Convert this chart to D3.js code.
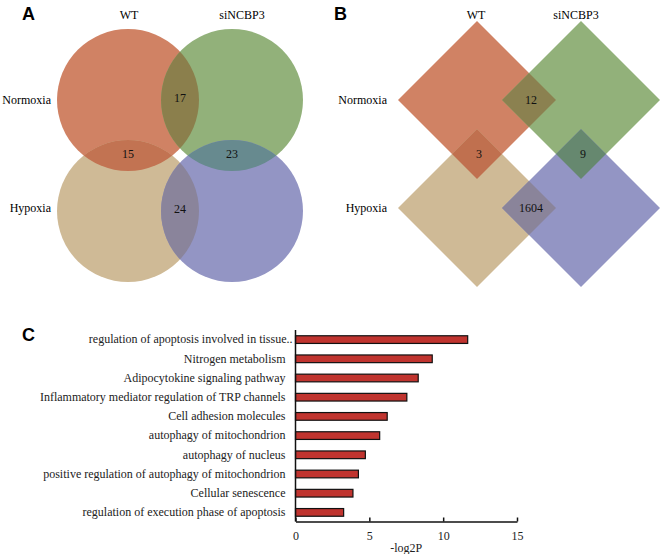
<!DOCTYPE html>
<html><head><meta charset="utf-8">
<script src="https://cdn.jsdelivr.net/npm/d3@7"></script>
<style>
html,body{margin:0;padding:0;background:#fff;}
svg{display:block;}
</style></head>
<body>
<svg id="chart" width="663" height="554"></svg>
<script>
// ---------- data ----------
const genotypes = ["WT", "siNCBP3"];
const conditions = ["Normoxia", "Hypoxia"];
// sets in order: WT-Normoxia, siNCBP3-Normoxia, WT-Hypoxia, siNCBP3-Hypoxia
const setKeys = [["WT","Normoxia"],["siNCBP3","Normoxia"],["WT","Hypoxia"],["siNCBP3","Hypoxia"]];
// overlapping pairs (indices into setKeys)
const overlapPairs = [[0,1],[0,2],[1,3],[2,3]];
const overlapsA = [17, 15, 23, 24];
const overlapsB = [12, 3, 9, 1604];

const terms = [
  "regulation of apoptosis involved in tissue..",
  "Nitrogen metabolism",
  "Adipocytokine signaling pathway",
  "Inflammatory mediator regulation of TRP channels",
  "Cell adhesion molecules",
  "autophagy of mitochondrion",
  "autophagy of nucleus",
  "positive regulation of autophagy of mitochondrion",
  "Cellular senescence",
  "regulation of execution phase of apoptosis"
];
const log2P = [11.66, 9.26, 8.31, 7.54, 6.21, 5.70, 4.73, 4.26, 3.89, 3.26];
const xTicks = [0, 5, 10, 15];

// ---------- styles ----------
const setColors = ["#d08264", "#92b17a", "#cfba96", "#9395c4"];
const overlapColorsA = ["#8b7f4c", "#c27352", "#678a8f", "#8a849b"];
const overlapColorsB = ["#8b8150", "#c0704f", "#66886f", "#8a849a"];
const serif = "'Liberation Serif','Times New Roman',serif";
const sans = "'Liberation Sans',Arial,sans-serif";

const svg = d3.select("#chart");

function panelLabel(t, x, y) {
  svg.append("text").attr("x", x).attr("y", y).text(t)
    .attr("font-family", sans).attr("font-weight", "bold").attr("font-size", 18).attr("fill", "#000");
}

// ---------- Panel A: circles ----------
(function(){
  const g = svg.append("g");
  const x = d3.scalePoint().domain(genotypes).range([128, 232]);
  const y = d3.scalePoint().domain(conditions).range([100, 211]);
  const r = 71;
  const defs = svg.append("defs");
  setKeys.forEach((k, i) => {
    defs.append("clipPath").attr("id", "cA" + i)
      .append("circle").attr("cx", x(k[0])).attr("cy", y(k[1])).attr("r", r);
  });
  g.selectAll("circle.set").data(setKeys).join("circle").attr("class","set")
    .attr("cx", d => x(d[0])).attr("cy", d => y(d[1])).attr("r", r)
    .attr("fill", (d, i) => setColors[i]);
  g.selectAll("circle.ov").data(overlapPairs).join("circle").attr("class","ov")
    .attr("cx", d => x(setKeys[d[1]][0])).attr("cy", d => y(setKeys[d[1]][1])).attr("r", r)
    .attr("clip-path", d => `url(#cA${d[0]})`)
    .attr("fill", (d, i) => overlapColorsA[i]);
  g.selectAll("text.num").data(overlapPairs).join("text").attr("class","num")
    .attr("x", d => (x(setKeys[d[0]][0]) + x(setKeys[d[1]][0])) / 2)
    .attr("y", d => (y(setKeys[d[0]][1]) + y(setKeys[d[1]][1])) / 2 - 2)
    .attr("text-anchor", "middle").attr("dominant-baseline", "central")
    .attr("font-family", serif).attr("font-size", 12).attr("fill", "#111")
    .text((d, i) => overlapsA[i]);
  g.selectAll("text.col").data(genotypes).join("text").attr("class","col")
    .attr("x", (d, i) => x(d) + (i ? 10 : 1)).attr("y", 15)
    .attr("text-anchor", "middle").attr("dominant-baseline", "central")
    .attr("font-family", serif).attr("font-size", 12).text(d => d);
  g.selectAll("text.row").data(conditions).join("text").attr("class","row")
    .attr("x", 51).attr("y", (d, i) => y(d) - (i ? 3 : 0))
    .attr("text-anchor", "end").attr("dominant-baseline", "central")
    .attr("font-family", serif).attr("font-size", 12).text(d => d);
  panelLabel("A", 22, 20);
})();

// ---------- Panel B: diamonds ----------
(function(){
  const g = svg.append("g");
  const x = d3.scalePoint().domain(genotypes).range([477, 581]);
  const y = d3.scalePoint().domain(conditions).range([100, 208]);
  const h = 79;
  const dpath = (cx, cy) => `M${cx - h},${cy}L${cx},${cy - h}L${cx + h},${cy}L${cx},${cy + h}Z`;
  const defs = svg.append("defs");
  setKeys.forEach((k, i) => {
    defs.append("clipPath").attr("id", "cB" + i)
      .append("path").attr("d", dpath(x(k[0]), y(k[1])));
  });
  g.selectAll("path.set").data(setKeys).join("path").attr("class","set")
    .attr("d", d => dpath(x(d[0]), y(d[1])))
    .attr("fill", (d, i) => setColors[i]);
  g.selectAll("path.ov").data(overlapPairs).join("path").attr("class","ov")
    .attr("d", d => dpath(x(setKeys[d[1]][0]), y(setKeys[d[1]][1])))
    .attr("clip-path", d => `url(#cB${d[0]})`)
    .attr("fill", (d, i) => overlapColorsB[i]);
  g.selectAll("text.num").data(overlapPairs).join("text").attr("class","num")
    .attr("x", d => (x(setKeys[d[0]][0]) + x(setKeys[d[1]][0])) / 2 + 2)
    .attr("y", d => (y(setKeys[d[0]][1]) + y(setKeys[d[1]][1])) / 2)
    .attr("text-anchor", "middle").attr("dominant-baseline", "central")
    .attr("font-family", serif).attr("font-size", 12).attr("fill", "#111")
    .text((d, i) => overlapsB[i]);
  g.selectAll("text.col").data(genotypes).join("text").attr("class","col")
    .attr("x", (d, i) => x(d) + (i ? -5 : -1)).attr("y", 15)
    .attr("text-anchor", "middle").attr("dominant-baseline", "central")
    .attr("font-family", serif).attr("font-size", 12).text(d => d);
  g.selectAll("text.row").data(conditions).join("text").attr("class","row")
    .attr("x", 387).attr("y", d => y(d))
    .attr("text-anchor", "end").attr("dominant-baseline", "central")
    .attr("font-family", serif).attr("font-size", 12).text(d => d);
  panelLabel("B", 334, 20);
})();

// ---------- Panel C: bar chart ----------
(function(){
  const g = svg.append("g");
  const x = d3.scaleLinear().domain([0, 15]).range([295.5, 517]);
  const y = d3.scaleBand().domain(terms).range([330, 522]).paddingInner(0.6).paddingOuter(0.3);
  const x0 = x(0), yb = 521.5;

  g.selectAll("rect.bar").data(terms).join("rect").attr("class","bar")
    .attr("x", x0).attr("y", d => y(d))
    .attr("width", (d, i) => x(log2P[i]) - x0).attr("height", y.bandwidth())
    .attr("fill", "#c0342f").attr("stroke", "#111").attr("stroke-width", 1.2);

  // y axis
  const ya = g.append("g").attr("transform", `translate(${x0},0)`)
    .call(d3.axisLeft(y).tickSize(0).tickPadding(10));
  ya.select(".domain").attr("d", `M0,330V${yb}`).attr("stroke", "#111").attr("stroke-width", 1.5);
  ya.selectAll("text").attr("font-family", serif).attr("font-size", 12).attr("fill", "#222")
    .attr("dx", (d, i) => i === 0 ? 7 : 0);

  // x axis (ticks pointing inward)
  const xa = g.append("g").attr("transform", `translate(0,${yb})`)
    .call(d3.axisBottom(x).tickValues(xTicks).tickSize(-4).tickPadding(10).tickSizeOuter(0));
  xa.select(".domain").attr("stroke", "#111").attr("stroke-width", 1.5);
  xa.selectAll(".tick line").attr("stroke", "#111").attr("stroke-width", 1.5);
  xa.selectAll("text").attr("font-family", serif).attr("font-size", 12).attr("fill", "#222");

  g.append("text").attr("x", (x(0) + x(15)) / 2).attr("y", 548)
    .attr("text-anchor", "middle").attr("dominant-baseline", "central")
    .attr("font-family", serif).attr("font-size", 12).attr("fill", "#222").text("-log2P");

  panelLabel("C", 22, 341);
})();
</script>
</body></html>
